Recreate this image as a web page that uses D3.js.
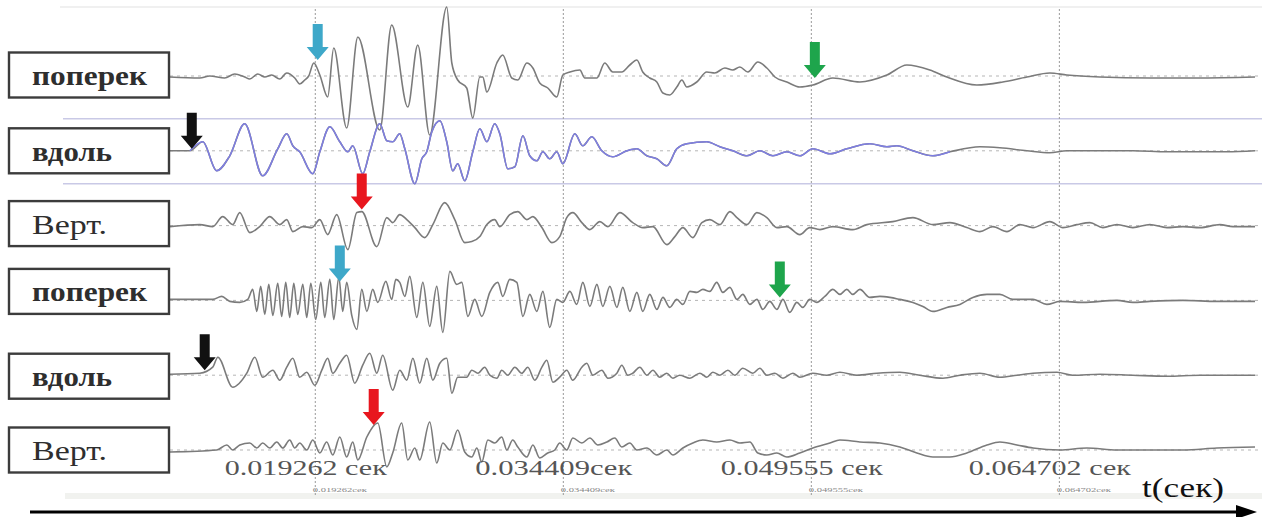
<!DOCTYPE html>
<html>
<head>
<meta charset="utf-8">
<script src="https://cdn.jsdelivr.net/npm/d3@7"></script>
<style>
  body { margin: 0; background: #fff; }
  svg  { display: block; }
</style>
</head>
<body>
<svg id="chart" width="1262" height="517"></svg>

<script>
// --- data (time in ms, amplitude in arbitrary units, up = positive) ---
var trackNames = ["поперек", "вдоль", "Верт.", "поперек", "вдоль", "Верт."];

var tickSec  = [0.019262, 0.034409, 0.049555, 0.064702];
var tickText = ["0.019262 сек", "0.034409сек", "0.049555 сек", "0.064702 сек"];
var tinyText = ["0.019262сек", "0.034409сек", "0.049555сек", "0.064702сек"];
var axisName = "t(сек)";

var tr1 = [[10.42,-1],[12.24,-2],[12.85,0],[13.76,-2],[14.37,2],[14.98,-1],[15.29,-3],[15.78,2],[16.21,-1],[16.63,1],[17.12,-3],[17.55,3],[18.04,-2],[18.34,-8],[18.65,-4],[18.89,0],[19.2,13],[19.57,1],[20.05,-21],[20.42,28],[21.21,-52],[21.89,39],[23.23,-54],[23.96,51],[24.94,-31],[25.55,31],[26.28,-59],[27.32,69],[27.63,13],[27.99,-4],[28.54,-12],[28.91,-42],[29.34,-1],[29.52,-1],[29.77,-16],[30.38,13],[30.74,21],[31.29,-2],[31.66,-4],[32.21,13],[32.58,8],[33.0,-7],[33.49,-12],[34.04,-21],[34.41,1],[34.84,4],[35.45,6],[35.75,-2],[36.49,-2],[36.97,13],[37.46,4],[38.01,4],[38.5,11],[38.93,16],[39.29,4],[39.72,-2],[40.15,-6],[40.52,-17],[40.94,-19],[41.37,-11],[41.68,-4],[41.98,-11],[42.59,-6],[43.2,4],[43.69,3],[44.3,8],[44.79,6],[45.22,9],[45.71,4],[46.32,14],[46.87,8],[47.36,-1],[48.09,-6],[48.88,-11],[49.68,-9],[50.9,-2],[52.55,-6],[54.2,1],[55.42,11],[56.82,6],[57.86,-1],[59.69,-9],[61.28,-6],[62.75,-1],[64.15,3],[65.19,1],[67.21,-1],[70.26,-2],[73.13,-2],[76.68,-1]];

var tr2 = [[10.42,0],[11.63,0],[12.42,9],[13.27,-20],[14.07,-5],[14.98,27],[16.08,-25],[17.0,2],[17.55,17],[17.92,5],[18.34,-1],[19.14,-23],[19.57,-1],[20.18,24],[20.79,9],[21.28,-1],[21.58,5],[22.19,-23],[22.62,-1],[23.23,27],[23.66,10],[24.02,9],[24.45,17],[24.76,2],[25.37,-33],[25.8,-8],[26.1,-1],[26.41,19],[26.9,30],[27.32,9],[27.69,-20],[27.99,-13],[28.42,-30],[28.91,-1],[29.34,22],[29.77,9],[30.25,27],[30.56,17],[31.05,-18],[31.48,-16],[31.97,15],[32.39,-5],[32.82,-10],[33.19,-1],[33.61,-8],[34.04,-1],[34.41,-13],[35.14,17],[35.63,5],[36.18,14],[36.79,0],[37.46,-6],[38.32,0],[38.93,2],[39.54,-5],[40.15,-8],[40.76,-15],[41.37,2],[41.98,7],[43.2,9],[44.0,4],[44.79,0],[45.65,-5],[46.44,0],[47.24,-5],[48.09,-1],[48.88,-5],[49.68,2],[50.72,-3],[51.75,2],[53.16,7],[54.2,4],[54.81,5],[55.79,0],[57.01,-5],[58.05,-1],[59.88,4],[61.1,3],[62.75,0],[64.15,-2],[65.19,0],[67.21,0],[69.22,0],[71.3,-1],[73.32,-1],[74.97,-1],[76.68,0]];
var blueSpan = [11.63, 58.05];

var tr3 = [[10.42,-1],[12.24,1],[13.03,-1],[13.64,9],[14.25,1],[14.68,13],[15.29,-7],[15.9,-1],[16.51,9],[17.12,1],[17.55,6],[17.92,-6],[18.53,-1],[19.08,-2],[19.57,6],[20.05,-9],[20.6,11],[21.28,-24],[21.83,13],[22.13,14],[23.05,-21],[23.66,8],[24.02,3],[24.45,11],[24.88,6],[25.37,-2],[25.98,-12],[26.47,1],[27.2,23],[27.81,6],[28.42,-17],[28.85,-16],[29.34,-11],[29.77,1],[30.25,6],[30.56,-1],[31.17,11],[31.66,14],[32.21,6],[32.58,9],[33.13,-2],[33.74,-17],[34.22,-11],[34.65,8],[35.02,13],[35.57,3],[36.06,-4],[36.67,4],[37.16,-1],[37.89,13],[38.68,3],[39.29,-2],[39.91,-1],[40.76,-19],[41.25,-11],[41.74,-2],[42.35,-12],[42.9,3],[43.39,6],[44.0,1],[44.61,14],[45.04,8],[45.65,1],[46.26,13],[46.87,8],[47.48,-2],[48.09,-1],[48.88,-9],[49.49,-2],[50.11,-4],[50.9,-1],[52.12,-4],[52.98,1],[54.56,4],[55.79,8],[57.01,1],[58.05,3],[59.08,-2],[59.88,-6],[60.67,-1],[61.53,-6],[62.32,1],[63.12,-2],[64.15,4],[64.95,-2],[65.8,1],[66.6,3],[67.39,-2],[68.25,1],[69.22,-2],[70.26,1],[71.3,-2],[72.28,-1],[73.32,-2],[74.54,1],[75.33,-1],[76.68,-1]];

var tr4 = [[10.42,1],[13.03,1],[13.58,4],[14.07,-1],[14.68,-2],[15.17,1],[15.47,11],[15.72,-11],[15.96,14],[16.21,-14],[16.45,16],[16.7,-15],[17.0,17],[17.24,-16],[17.49,18],[17.73,-17],[17.98,17],[18.22,-14],[18.53,16],[18.77,-17],[19.02,17],[19.32,-19],[19.63,18],[19.87,-17],[20.18,21],[20.42,-19],[20.73,23],[20.97,-11],[21.21,18],[21.52,-15],[21.83,-29],[22.13,11],[22.44,-11],[22.8,11],[23.11,-2],[23.6,19],[23.96,1],[24.21,21],[24.45,18],[24.76,4],[25.06,24],[25.49,-17],[25.86,18],[26.28,-26],[26.71,14],[27.08,-32],[27.51,29],[27.93,16],[28.24,18],[28.61,-16],[29.03,1],[29.46,-16],[29.95,8],[30.44,18],[30.74,4],[31.17,21],[31.6,18],[31.97,-16],[32.39,6],[32.82,-11],[33.19,9],[33.61,-27],[34.04,1],[34.41,-2],[34.84,9],[35.26,-4],[35.63,18],[36.06,-6],[36.49,16],[36.85,-6],[37.28,14],[37.71,-7],[38.07,13],[38.5,-11],[38.93,8],[39.29,-11],[39.72,6],[40.15,-9],[40.52,3],[40.94,-7],[41.37,1],[41.74,-4],[42.17,9],[42.59,8],[42.96,11],[43.39,9],[43.81,18],[44.18,8],[44.61,13],[45.04,1],[45.4,6],[45.83,-4],[46.26,1],[46.62,-9],[47.05,-1],[47.48,-9],[47.85,1],[48.27,-12],[48.7,-2],[49.07,-7],[49.49,1],[49.92,-2],[50.41,4],[50.9,11],[51.33,6],[51.75,11],[52.12,6],[52.55,11],[53.16,3],[53.77,4],[54.38,3],[54.99,1],[55.79,-2],[56.4,-6],[57.01,-11],[57.86,-7],[58.66,-4],[59.45,3],[60.31,6],[61.1,6],[61.89,1],[63.12,1],[63.97,-4],[64.76,-1],[66.17,-2],[68.25,0],[69.22,-2],[70.26,-1],[72.28,0],[74.35,-1],[76.68,-1]];

var tr5 = [[10.42,1],[12.24,2],[13.03,8],[13.34,18],[14.25,-12],[15.11,2],[15.6,18],[16.08,-2],[16.7,5],[17.12,-5],[17.55,8],[17.92,17],[18.34,-2],[18.77,3],[19.26,-10],[19.69,5],[20.05,17],[20.36,2],[20.79,12],[21.21,20],[21.7,-8],[22.19,10],[22.62,22],[23.05,2],[23.41,20],[24.02,-15],[24.45,5],[24.88,-5],[25.25,17],[25.67,-8],[26.1,17],[26.47,-5],[26.9,12],[27.32,17],[27.63,-18],[27.99,-2],[28.54,-2],[28.85,5],[29.22,2],[29.64,8],[29.95,0],[30.38,-3],[30.68,5],[31.05,0],[31.48,8],[31.9,2],[32.27,8],[32.7,-5],[33.13,8],[33.43,15],[33.8,-7],[34.22,-2],[34.65,5],[35.02,-5],[35.57,8],[35.87,12],[36.24,0],[36.79,5],[37.16,-3],[37.71,2],[38.01,10],[38.38,0],[38.68,2],[39.11,8],[39.54,0],[39.91,5],[40.33,-2],[40.76,2],[41.13,-3],[41.55,0],[42.17,-3],[42.78,2],[43.2,-2],[43.57,3],[44.0,0],[44.49,5],[44.91,0],[45.4,7],[46.01,2],[46.44,7],[46.87,0],[47.36,2],[47.85,-3],[48.46,2],[48.88,-2],[49.68,2],[50.53,0],[51.33,3],[52.37,0],[53.59,2],[54.99,3],[56.21,0],[57.62,-3],[58.66,0],[59.88,2],[61.1,-2],[62.14,0],[63.12,2],[64.58,3],[65.56,0],[67.21,1],[69.22,0],[71.3,-1],[73.32,0],[76.68,0]];

var tr6 = [[10.42,-2],[13.27,0],[13.89,5],[14.25,0],[14.68,5],[15.29,7],[15.72,2],[16.08,7],[16.51,2],[16.94,8],[17.31,2],[17.73,10],[18.04,2],[18.34,7],[18.77,0],[19.14,10],[19.57,-3],[19.99,8],[20.36,-5],[20.79,13],[21.21,-7],[21.58,8],[21.89,-10],[22.44,13],[23.11,27],[23.66,-17],[24.02,-3],[24.57,27],[24.94,-10],[25.37,2],[25.67,-10],[26.28,28],[26.71,-13],[27.08,7],[27.51,0],[27.99,20],[28.42,-2],[28.85,-7],[29.16,2],[29.46,-12],[29.83,10],[30.25,7],[30.68,13],[30.99,0],[31.35,10],[31.66,3],[32.21,-7],[32.58,5],[33.0,-8],[33.49,-3],[33.92,0],[34.22,7],[34.65,0],[35.02,12],[35.57,7],[36.06,12],[36.55,5],[37.1,8],[37.58,12],[38.01,3],[38.5,7],[38.93,0],[39.54,2],[40.15,-5],[40.76,0],[41.13,-5],[41.74,2],[42.35,7],[42.96,10],[43.81,8],[44.61,10],[45.22,7],[45.83,8],[46.32,-3],[46.87,-5],[47.48,-3],[48.09,-7],[48.88,-3],[49.68,2],[50.72,7],[51.33,10],[52.55,8],[53.77,7],[54.99,3],[56.03,-3],[57.01,-7],[58.05,-7],[59.08,-3],[60.31,5],[61.1,8],[62.14,5],[63.12,2],[64.76,0],[66.41,2],[68.25,0],[70.26,0],[72.28,0],[74.35,2],[76.68,3]];

var traces = [tr1, tr2, tr3, tr4, tr5, tr6];

// arrival picks: which trace, time (ms), amplitude where the arrow points
var pickTrack = [0, 0, 1, 2, 3, 3, 4, 5];
var pickTime  = [19.44, 49.8, 11.75, 22.13, 20.79, 47.66, 12.54, 22.86];
var pickAmp   = [16, -2, 2, 16, 19, 3, 5, 25];
var pickColor = ["#3ea8c9", "#1ea54c", "#111111", "#e8161e", "#3ea8c9", "#1ea54c", "#111111", "#e8161e"];

// --- layout ---
var serif = "'Liberation Serif', 'Times New Roman', 'DejaVu Serif', serif";
var svg = d3.select("#chart");

var x   = d3.scaleLinear().domain([10.42, 76.68]).range([170, 1255]);
var row = d3.scalePoint().domain(d3.range(trackNames.length)).range([76, 450]);
var amp = d3.scaleLinear().domain([-60, 60]).range([60, -60]);

var boxShift   = [-1, 0, -2, -9, 1, 0];
var nameLen    = [115, 80, 75, 115, 80, 75];
var nameWeight = ["bold", "bold", "normal", "bold", "bold", "normal"];

// top frame line
svg.append("line")
    .attr("x1", 60).attr("x2", 1262).attr("y1", 7).attr("y2", 7)
    .attr("stroke", "#e2e2e2").attr("stroke-width", 1.2);

// faint band under the tiny labels
svg.append("rect")
    .attr("x", 65).attr("y", 493).attr("width", 1197).attr("height", 6)
    .attr("fill", "#f1f2ef");

// lavender band lines round the "вдоль" trace
[-32, 33].forEach(function(off) {
  svg.append("line")
      .attr("x1", 63).attr("x2", 1262)
      .attr("y1", row(1) + off).attr("y2", row(1) + off)
      .attr("stroke", "#c9c9e6").attr("stroke-width", 1.6);
});

// vertical grid through the ticks
var grid = svg.append("g")
    .attr("transform", "translate(0,495)")
    .call(d3.axisBottom(x)
      .tickValues(tickSec.map(function(s) { return s * 1000; }))
      .tickSize(-487)
      .tickFormat(""));
grid.select(".domain").remove();
grid.selectAll(".tick line")
    .attr("stroke", "#9a9a9a")
    .attr("stroke-dasharray", "2,2")
    .attr("stroke-width", 1);

// baselines
svg.selectAll(".base")
    .data(trackNames)
  .enter().append("line")
    .attr("class", "base")
    .attr("x1", 170).attr("x2", 1262)
    .attr("y1", function(d, i) { return row(i); })
    .attr("y2", function(d, i) { return row(i); })
    .attr("stroke", "#b5b5b5")
    .attr("stroke-width", 1)
    .attr("stroke-dasharray", "3,4");

var line = d3.line()
    .curve(d3.curveMonotoneX)
    .x(function(d) { return x(d[0]); })
    .y(function(d) { return amp(d[1]); });

traces.forEach(function(tr, i) {
  var g = svg.append("g").attr("transform", "translate(0," + row(i) + ")");
  g.append("path")
      .datum(tr)
      .attr("fill", "none")
      .attr("stroke", "#7b7b7b")
      .attr("stroke-width", 1.6)
      .attr("stroke-linejoin", "round")
      .attr("d", line);
  if (i == 1) {
    g.append("path")
        .datum(tr.filter(function(d) { return d[0] >= blueSpan[0] && d[0] <= blueSpan[1]; }))
        .attr("fill", "none")
        .attr("stroke", "#7e7ee2")
        .attr("stroke-width", 1.5)
        .attr("stroke-linejoin", "round")
        .attr("d", line);
  }
});

// label boxes
var boxes = svg.selectAll(".box")
    .data(trackNames)
  .enter().append("g")
    .attr("class", "box")
    .attr("transform", function(d, i) { return "translate(9," + (row(i) + boxShift[i]) + ")"; });

boxes.append("rect")
    .attr("x", 0).attr("y", -22.5)
    .attr("width", 160).attr("height", 45)
    .attr("fill", "#fff")
    .attr("stroke", "#3c3c3c")
    .attr("stroke-width", 2.4);

boxes.append("text")
    .attr("x", 23).attr("y", 10)
    .attr("font-family", serif)
    .attr("font-size", 27)
    .attr("font-weight", function(d, i) { return nameWeight[i]; })
    .attr("fill", "#2e2e2e")
    .attr("textLength", function(d, i) { return nameLen[i]; })
    .attr("lengthAdjust", "spacingAndGlyphs")
    .text(function(d) { return d; });

// pick arrows
var arrowPath = "M -5 -36 L 5 -36 L 5 -13 L 11 -13 L 0 0 L -11 -13 L -5 -13 Z";
svg.selectAll(".pick")
    .data(pickTime)
  .enter().append("path")
    .attr("class", "pick")
    .attr("d", arrowPath)
    .attr("fill", function(d, i) { return pickColor[i]; })
    .attr("transform", function(d, i) {
      return "translate(" + x(d) + "," + (row(pickTrack[i]) + amp(pickAmp[i])) + ")";
    });

// tick labels
svg.selectAll(".tlab")
    .data(tickSec)
  .enter().append("text")
    .attr("x", function(d) { return x(d * 1000) - 9; })
    .attr("y", 475)
    .attr("text-anchor", "middle")
    .attr("font-family", serif)
    .attr("font-size", 22)
    .attr("fill", "#555")
    .attr("textLength", function(d, i) { return i == 1 ? 157 : 162; })
    .attr("lengthAdjust", "spacingAndGlyphs")
    .text(function(d, i) { return tickText[i]; });

svg.selectAll(".tiny")
    .data(tickSec)
  .enter().append("text")
    .attr("x", function(d) { return x(d * 1000) - 2; })
    .attr("y", 492)
    .attr("font-family", serif)
    .attr("font-size", 6)
    .attr("fill", "#888")
    .attr("textLength", 54)
    .attr("lengthAdjust", "spacingAndGlyphs")
    .text(function(d, i) { return tinyText[i]; });

// time arrow
svg.append("line")
    .attr("x1", 30).attr("x2", 1240).attr("y1", 512).attr("y2", 512)
    .attr("stroke", "#000").attr("stroke-width", 3);
svg.append("path")
    .attr("d", "M 1236 505 L 1257 512 L 1236 519 Z")
    .attr("fill", "#000");

svg.append("text")
    .attr("x", 1142).attr("y", 497)
    .attr("font-family", serif)
    .attr("font-size", 28)
    .attr("fill", "#111")
    .attr("textLength", 82)
    .attr("lengthAdjust", "spacingAndGlyphs")
    .text(axisName);
</script>
</body>
</html>
